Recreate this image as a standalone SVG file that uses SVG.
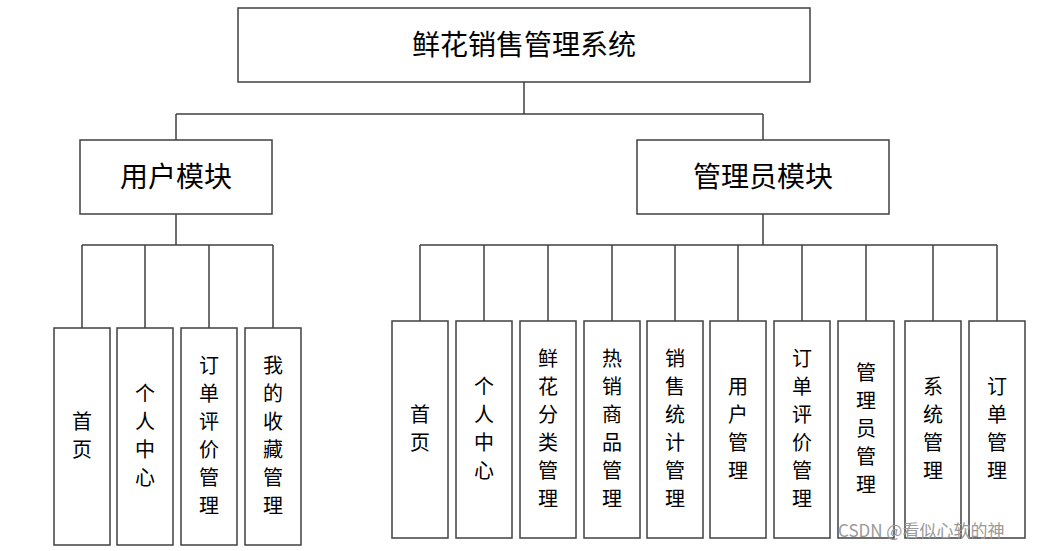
<svg xmlns="http://www.w3.org/2000/svg" width="1046" height="551" viewBox="0 0 1046 551">
<style>
rect{fill:#fff;stroke:#404040;stroke-width:1.5}
.c path{fill:none;stroke:#404040;stroke-width:1.5}
text{font-family:"Noto Sans CJK SC",sans-serif;fill:#000;text-anchor:middle}
.t{font-size:28px}.m{font-size:28px}.s{font-size:20px}
.w{font-size:17px;fill:#9a9a9a;text-anchor:start}
</style>
<rect width="1046" height="551" style="fill:#fff;stroke:none"/>
<g class="c">
<path d="M524 82V114M176 114H763M176 114V140M763 114V140"/>
<path d="M176 214V245M82 245H273M82 245V328M145 245V328M209 245V328M273 245V328"/>
<path d="M763 214V245M420 245H997M420 245V321M484 245V321M548 245V321M612 245V321M675 245V321M738 245V321M802 245V321M866 245V321M933 245V321M997 245V321"/>
</g>
<g id="root"><rect x="238" y="8" width="572" height="74"/><text class="t" x="524" y="55">鲜花销售管理系统</text></g>
<g id="user"><rect x="80" y="140" width="192" height="74"/><text class="m" x="176" y="187">用户模块</text></g>
<g id="admin"><rect x="637" y="140" width="252" height="74"/><text class="m" x="763" y="187">管理员模块</text></g>
<g id="u1"><rect x="54" y="328" width="56" height="217"/><text class="s" x="82"><tspan x="82" y="429">首</tspan><tspan x="82" y="457">页</tspan></text></g>
<g id="u2"><rect x="117" y="328" width="56" height="217"/><text class="s" x="145"><tspan x="145" y="401">个</tspan><tspan x="145" y="429">人</tspan><tspan x="145" y="457">中</tspan><tspan x="145" y="485">心</tspan></text></g>
<g id="u3"><rect x="181" y="328" width="56" height="217"/><text class="s"><tspan x="209" y="373">订</tspan><tspan x="209" y="401">单</tspan><tspan x="209" y="429">评</tspan><tspan x="209" y="457">价</tspan><tspan x="209" y="485">管</tspan><tspan x="209" y="513">理</tspan></text></g>
<g id="u4"><rect x="245" y="328" width="56" height="217"/><text class="s"><tspan x="273" y="373">我</tspan><tspan x="273" y="401">的</tspan><tspan x="273" y="429">收</tspan><tspan x="273" y="457">藏</tspan><tspan x="273" y="485">管</tspan><tspan x="273" y="513">理</tspan></text></g>
<g id="a1"><rect x="392" y="321" width="56" height="217"/><text class="s"><tspan x="420" y="422">首</tspan><tspan x="420" y="450">页</tspan></text></g>
<g id="a2"><rect x="456" y="321" width="56" height="217"/><text class="s"><tspan x="484" y="394">个</tspan><tspan x="484" y="422">人</tspan><tspan x="484" y="450">中</tspan><tspan x="484" y="478">心</tspan></text></g>
<g id="a3"><rect x="520" y="321" width="56" height="217"/><text class="s"><tspan x="548" y="366">鲜</tspan><tspan x="548" y="394">花</tspan><tspan x="548" y="422">分</tspan><tspan x="548" y="450">类</tspan><tspan x="548" y="478">管</tspan><tspan x="548" y="506">理</tspan></text></g>
<g id="a4"><rect x="584" y="321" width="56" height="217"/><text class="s"><tspan x="612" y="366">热</tspan><tspan x="612" y="394">销</tspan><tspan x="612" y="422">商</tspan><tspan x="612" y="450">品</tspan><tspan x="612" y="478">管</tspan><tspan x="612" y="506">理</tspan></text></g>
<g id="a5"><rect x="647" y="321" width="56" height="217"/><text class="s"><tspan x="675" y="366">销</tspan><tspan x="675" y="394">售</tspan><tspan x="675" y="422">统</tspan><tspan x="675" y="450">计</tspan><tspan x="675" y="478">管</tspan><tspan x="675" y="506">理</tspan></text></g>
<g id="a6"><rect x="710" y="321" width="56" height="217"/><text class="s"><tspan x="738" y="394">用</tspan><tspan x="738" y="422">户</tspan><tspan x="738" y="450">管</tspan><tspan x="738" y="478">理</tspan></text></g>
<g id="a7"><rect x="774" y="321" width="56" height="217"/><text class="s"><tspan x="802" y="366">订</tspan><tspan x="802" y="394">单</tspan><tspan x="802" y="422">评</tspan><tspan x="802" y="450">价</tspan><tspan x="802" y="478">管</tspan><tspan x="802" y="506">理</tspan></text></g>
<g id="a8"><rect x="838" y="321" width="56" height="217"/><text class="s"><tspan x="866" y="380">管</tspan><tspan x="866" y="408">理</tspan><tspan x="866" y="436">员</tspan><tspan x="866" y="464">管</tspan><tspan x="866" y="492">理</tspan></text></g>
<g id="a9"><rect x="905" y="321" width="56" height="217"/><text class="s"><tspan x="933" y="394">系</tspan><tspan x="933" y="422">统</tspan><tspan x="933" y="450">管</tspan><tspan x="933" y="478">理</tspan></text></g>
<g id="a10"><rect x="969" y="321" width="56" height="217"/><text class="s"><tspan x="997" y="394">订</tspan><tspan x="997" y="422">单</tspan><tspan x="997" y="450">管</tspan><tspan x="997" y="478">理</tspan></text></g>
<text class="w" x="838" y="537">CSDN @看似心软的神</text>
</svg>
